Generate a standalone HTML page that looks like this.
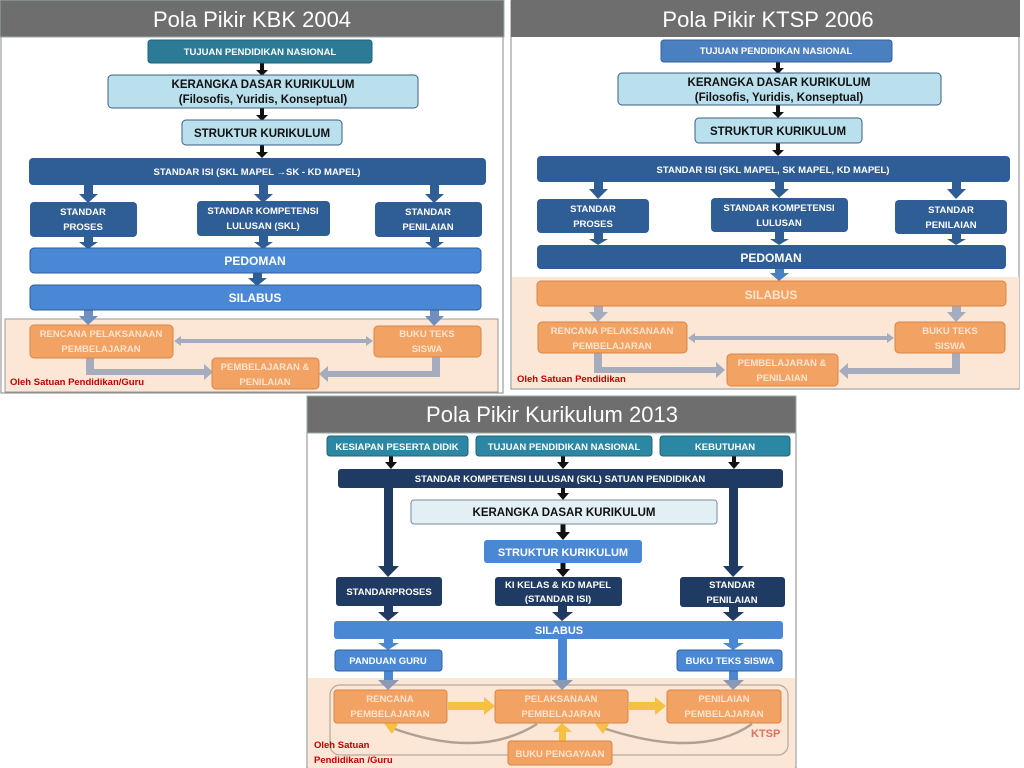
<!DOCTYPE html>
<html><head><meta charset="utf-8">
<style>
html,body{margin:0;padding:0;background:#fff;}
svg{display:block;}
text{font-family:"Liberation Sans",sans-serif;}
.b{font-weight:bold;font-size:9.5px;fill:#fff;text-anchor:middle;}
.bk{font-weight:bold;font-size:11.5px;fill:#111;text-anchor:middle;}
.o{font-weight:bold;font-size:9.5px;fill:#fde4cf;text-anchor:middle;}
.t{font-size:22px;fill:#fff;text-anchor:middle;}
.r{font-weight:bold;font-size:9.5px;fill:#c00000;}
</style></head>
<body>
<svg width="1024" height="768" viewBox="0 0 1024 768" xmlns="http://www.w3.org/2000/svg">
<!-- ===== PANEL 1 ===== -->
<rect x="1" y="1" width="502" height="392" fill="#fff" stroke="#888" stroke-width="1"/>
<rect x="0" y="0" width="504" height="37" fill="#6e6e6e" stroke="#9aa" stroke-width="1"/>
<text class="t" x="252" y="27">Pola Pikir KBK 2004</text>
<rect x="5" y="319" width="493" height="73" fill="#fce6d6" stroke="#999" stroke-width="1"/>

<g fill="#111" stroke="#111">
<line x1="262" y1="63" x2="262" y2="71" stroke-width="4"/><polygon points="256,70 268,70 262,76" stroke="none"/>
<line x1="262" y1="108" x2="262" y2="116" stroke-width="4"/><polygon points="256,115 268,115 262,121" stroke="none"/>
<line x1="262" y1="145" x2="262" y2="153" stroke-width="4"/><polygon points="256,152 268,152 262,158" stroke="none"/>
</g>
<g fill="#2f5d95">
<rect x="84" y="184" width="9" height="12"/><polygon points="79,194 98,194 88,203"/>
<rect x="259" y="184" width="9" height="12"/><polygon points="254,194 273,194 263,203"/>
<rect x="430" y="184" width="9" height="12"/><polygon points="425,194 444,194 434,203"/>
<rect x="84" y="236" width="9" height="8"/><polygon points="79,242 98,242 88,249"/>
<rect x="259" y="236" width="9" height="8"/><polygon points="254,242 273,242 263,249"/>
<rect x="430" y="236" width="9" height="8"/><polygon points="425,242 444,242 434,249"/>
<rect x="253" y="272" width="9" height="8"/><polygon points="248,278 267,278 257,286"/>
</g>
<g fill="#6f8fc0">
<rect x="84" y="309" width="9" height="9"/><polygon points="79,316 98,316 88,325"/>
<rect x="430" y="309" width="9" height="9"/><polygon points="425,316 444,316 434,326"/>
</g>
<g fill="#a4acbe">
<rect x="178" y="339" width="191" height="4"/><polygon points="174,341 181,336 181,346"/><polygon points="373,341 366,336 366,346"/>
<path d="M86,357 h8 v12 h110 v-5 l9,8 -9,8 v-5 h-118 z"/>
<path d="M432,357 h8 v20 h-112 v5 l-9,-8 9,-8 v5 h104 z"/>
</g>

<rect x="148" y="40" width="224" height="23" rx="3" fill="#2b7b96" stroke="#21607a"/>
<text class="b" x="260" y="55">TUJUAN PENDIDIKAN NASIONAL</text>
<rect x="108" y="75" width="310" height="33" rx="4" fill="#b9e0ec" stroke="#3d5f80"/>
<text class="bk" x="263" y="88">KERANGKA DASAR KURIKULUM</text>
<text class="bk" x="263" y="103">(Filosofis, Yuridis, Konseptual)</text>
<rect x="182" y="120" width="160" height="25" rx="4" fill="#b9e0ec" stroke="#3d5f80"/>
<text class="bk" x="262" y="137">STRUKTUR KURIKULUM</text>
<rect x="29" y="158" width="457" height="27" rx="4" fill="#2f5d95"/>
<text class="b" x="257" y="175">STANDAR ISI (SKL MAPEL →SK - KD MAPEL)</text>
<rect x="30" y="202" width="107" height="35" rx="4" fill="#2f5d95"/>
<text class="b" x="83" y="215">STANDAR</text><text class="b" x="83" y="230">PROSES</text>
<rect x="197" y="201" width="133" height="35" rx="4" fill="#2f5d95"/>
<text class="b" x="263" y="214">STANDAR KOMPETENSI</text><text class="b" x="263" y="229">LULUSAN (SKL)</text>
<rect x="375" y="202" width="107" height="35" rx="4" fill="#2f5d95"/>
<text class="b" x="428" y="215">STANDAR</text><text class="b" x="428" y="230">PENILAIAN</text>
<rect x="30" y="248" width="451" height="25" rx="4" fill="#4a88d6" stroke="#2f5d95"/>
<text class="b" style="font-size:12px" x="255" y="265">PEDOMAN</text>
<rect x="30" y="285" width="451" height="25" rx="4" fill="#4a88d6" stroke="#2f5d95"/>
<text class="b" style="font-size:12px" x="255" y="302">SILABUS</text>
<rect x="30" y="325" width="143" height="33" rx="4" fill="#f2a262" stroke="#d8864a"/>
<text class="o" x="101" y="337">RENCANA PELAKSANAAN</text><text class="o" x="101" y="352">PEMBELAJARAN</text>
<rect x="374" y="326" width="107" height="31" rx="4" fill="#f2a262" stroke="#d8864a"/>
<text class="o" x="427" y="337">BUKU TEKS</text><text class="o" x="427" y="352">SISWA</text>
<rect x="212" y="358" width="107" height="31" rx="4" fill="#f2a262" stroke="#d8864a"/>
<text class="o" x="265" y="370">PEMBELAJARAN &amp;</text><text class="o" x="265" y="385">PENILAIAN</text>
<text class="r" x="10" y="385">Oleh Satuan Pendidikan/Guru</text>

<!-- ===== PANEL 2 ===== -->
<rect x="511" y="1" width="508" height="388" fill="#fff" stroke="#888"/>
<rect x="511" y="0" width="509" height="37" fill="#6e6e6e"/>
<text class="t" x="768" y="27">Pola Pikir  KTSP 2006</text>
<rect x="512" y="277" width="507" height="111" fill="#fce6d6"/>

<g fill="#111" stroke="#111">
<line x1="778" y1="62" x2="778" y2="69" stroke-width="4"/><polygon points="772,68 784,68 778,74" stroke="none"/>
<line x1="778" y1="105" x2="778" y2="113" stroke-width="4"/><polygon points="772,112 784,112 778,118" stroke="none"/>
<line x1="778" y1="143" x2="778" y2="151" stroke-width="4"/><polygon points="772,150 784,150 778,156" stroke="none"/>
</g>
<g fill="#2f5d95">
<rect x="594" y="181" width="9" height="10"/><polygon points="589,189 608,189 598,199"/>
<rect x="775" y="181" width="9" height="10"/><polygon points="770,189 789,189 779,198"/>
<rect x="952" y="181" width="9" height="10"/><polygon points="947,189 966,189 956,199"/>
<rect x="594" y="232" width="9" height="8"/><polygon points="589,239 608,239 598,245"/>
<rect x="775" y="231" width="9" height="9"/><polygon points="770,239 789,239 779,245"/>
<rect x="952" y="233" width="9" height="8"/><polygon points="947,239 966,239 956,245"/>
</g>
<g fill="#4a7fc0"><rect x="775" y="268" width="9" height="6"/><polygon points="770,273 789,273 779,281"/></g>
<g fill="#a4acbe">
<rect x="594" y="305" width="9" height="9"/><polygon points="589,312 608,312 598,322"/>
<rect x="952" y="305" width="9" height="9"/><polygon points="947,312 966,312 956,322"/>
<rect x="692" y="336" width="198" height="4"/><polygon points="688,338 695,333 695,343"/><polygon points="894,338 887,333 887,343"/>
<path d="M594,353 h8 v14 h114 v-5 l9,8 -9,8 v-5 h-122 z"/>
<path d="M952,353 h8 v21 h-112 v5 l-9,-8 9,-8 v5 h104 z"/>
</g>

<rect x="661" y="40" width="231" height="22" rx="3" fill="#4a7fc0" stroke="#35609a"/>
<text class="b" x="776" y="54">TUJUAN PENDIDIKAN NASIONAL</text>
<rect x="618" y="73" width="323" height="32" rx="4" fill="#b9e0ec" stroke="#3d5f80"/>
<text class="bk" x="779" y="86">KERANGKA DASAR KURIKULUM</text>
<text class="bk" x="779" y="101">(Filosofis, Yuridis, Konseptual)</text>
<rect x="695" y="118" width="167" height="25" rx="4" fill="#b9e0ec" stroke="#3d5f80"/>
<text class="bk" x="778" y="135">STRUKTUR KURIKULUM</text>
<rect x="537" y="156" width="473" height="26" rx="4" fill="#2f5d95"/>
<text class="b" x="773" y="173">STANDAR ISI (SKL MAPEL, SK MAPEL, KD MAPEL)</text>
<rect x="537" y="199" width="112" height="34" rx="4" fill="#2f5d95"/>
<text class="b" x="593" y="212">STANDAR</text><text class="b" x="593" y="227">PROSES</text>
<rect x="711" y="198" width="137" height="34" rx="4" fill="#2f5d95"/>
<text class="b" x="779" y="211">STANDAR KOMPETENSI</text><text class="b" x="779" y="226">LULUSAN</text>
<rect x="895" y="200" width="112" height="34" rx="4" fill="#2f5d95"/>
<text class="b" x="951" y="213">STANDAR</text><text class="b" x="951" y="228">PENILAIAN</text>
<rect x="537" y="245" width="469" height="24" rx="4" fill="#2f5d95"/>
<text class="b" style="font-size:12px" x="771" y="262">PEDOMAN</text>
<rect x="537" y="281" width="469" height="25" rx="4" fill="#f2a262" stroke="#d8864a"/>
<text class="o" style="font-size:12px" x="771" y="299">SILABUS</text>
<rect x="538" y="322" width="149" height="31" rx="4" fill="#f2a262" stroke="#d8864a"/>
<text class="o" x="612" y="334">RENCANA PELAKSANAAN</text><text class="o" x="612" y="349">PEMBELAJARAN</text>
<rect x="895" y="322" width="110" height="31" rx="4" fill="#f2a262" stroke="#d8864a"/>
<text class="o" x="950" y="334">BUKU TEKS</text><text class="o" x="950" y="349">SISWA</text>
<rect x="727" y="354" width="111" height="32" rx="4" fill="#f2a262" stroke="#d8864a"/>
<text class="o" x="782" y="366">PEMBELAJARAN &amp;</text><text class="o" x="782" y="381">PENILAIAN</text>
<text class="r" x="517" y="382">Oleh Satuan Pendidikan</text>

<!-- ===== PANEL 3 ===== -->
<rect x="307" y="396" width="489" height="372" fill="#fff" stroke="#888"/>
<rect x="307" y="396" width="489" height="37" fill="#6e6e6e" stroke="#9aa"/>
<text class="t" x="552" y="422">Pola Pikir  Kurikulum 2013</text>
<rect x="308" y="678" width="487" height="90" fill="#fce6d6"/>
<rect x="330" y="685" width="458" height="70" rx="10" fill="none" stroke="#b8a898" stroke-width="1.2"/>

<g fill="#111" stroke="#111">
<line x1="391" y1="456" x2="391" y2="463" stroke-width="4"/><polygon points="385,462 397,462 391,469" stroke="none"/>
<line x1="563" y1="456" x2="563" y2="463" stroke-width="4"/><polygon points="557,462 569,462 563,469" stroke="none"/>
<line x1="734" y1="456" x2="734" y2="463" stroke-width="4"/><polygon points="728,462 740,462 734,469" stroke="none"/>
<line x1="563" y1="488" x2="563" y2="494" stroke-width="4"/><polygon points="557,493 569,493 563,500" stroke="none"/>
<line x1="563" y1="524" x2="563" y2="533" stroke-width="5"/><polygon points="556,532 570,532 563,540" stroke="none"/>
<line x1="563" y1="563" x2="563" y2="570" stroke-width="5"/><polygon points="556,569 570,569 563,577" stroke="none"/>
</g>
<g fill="#1f3b63">
<rect x="384" y="488" width="9" height="80"/><polygon points="378,566 399,566 388,577"/>
<rect x="729" y="488" width="9" height="80"/><polygon points="723,566 744,566 733,577"/>
<rect x="384" y="606" width="9" height="8"/><polygon points="378,612 399,612 388,621"/>
<rect x="558" y="606" width="9" height="8"/><polygon points="552,612 573,612 562,621"/>
<rect x="729" y="607" width="9" height="7"/><polygon points="723,612 744,612 733,621"/>
</g>
<g fill="#4a88d6">
<rect x="384" y="639" width="9" height="5"/><polygon points="378,643 399,643 388,650"/>
<rect x="729" y="639" width="9" height="5"/><polygon points="723,643 744,643 733,650"/>
<rect x="558" y="639" width="9" height="42"/>
<rect x="384" y="671" width="9" height="10"/>
<rect x="729" y="671" width="9" height="10"/>
</g>
<g fill="#8a9ab5">
<polygon points="378,680 399,680 388,690"/><polygon points="552,680 573,680 562,690"/><polygon points="723,680 744,680 733,690"/>
</g>
<g fill="#f6c043">
<rect x="448" y="702" width="38" height="8"/><polygon points="484,697 495,706 484,715"/>
<rect x="629" y="702" width="28" height="8"/><polygon points="655,697 666,706 655,715"/>
<rect x="559" y="731" width="7" height="10"/><polygon points="553,732 572,732 562,723"/>
</g>
<g fill="none" stroke="#b0a090" stroke-width="2.5">
<path d="M537,724 Q480,760 392,728"/><path d="M752,724 Q700,760 603,728"/>
</g>
<g fill="#f6c043"><polygon points="383,722 398,724 392,734"/><polygon points="594,722 609,724 603,734"/></g>

<rect x="327" y="436" width="141" height="20" rx="3" fill="#2b87a3" stroke="#21657a"/>
<text class="b" x="397" y="450">KESIAPAN PESERTA DIDIK</text>
<rect x="476" y="436" width="176" height="20" rx="3" fill="#2b87a3" stroke="#21657a"/>
<text class="b" x="564" y="450">TUJUAN PENDIDIKAN NASIONAL</text>
<rect x="660" y="436" width="130" height="20" rx="3" fill="#2b87a3" stroke="#21657a"/>
<text class="b" x="725" y="450">KEBUTUHAN</text>
<rect x="338" y="469" width="445" height="19" rx="3" fill="#1f3b63"/>
<text class="b" x="560" y="482">STANDAR KOMPETENSI LULUSAN (SKL) SATUAN PENDIDIKAN</text>
<rect x="411" y="500" width="306" height="24" rx="3" fill="#e2f0f5" stroke="#7a8a9a"/>
<text class="bk" x="564" y="516">KERANGKA DASAR KURIKULUM</text>
<rect x="484" y="540" width="158" height="23" rx="3" fill="#4a88d6"/>
<text class="b" style="font-size:11px" x="563" y="556">STRUKTUR KURIKULUM</text>
<rect x="336" y="577" width="106" height="29" rx="3" fill="#1f3b63"/>
<text class="b" x="389" y="595">STANDARPROSES</text>
<rect x="495" y="577" width="127" height="29" rx="3" fill="#1f3b63"/>
<text class="b" x="558" y="588">KI KELAS &amp; KD MAPEL</text><text class="b" x="558" y="602">(STANDAR ISI)</text>
<rect x="680" y="577" width="105" height="30" rx="3" fill="#1f3b63"/>
<text class="b" x="732" y="588">STANDAR</text><text class="b" x="732" y="603">PENILAIAN</text>
<rect x="334" y="621" width="449" height="18" rx="3" fill="#4a88d6"/>
<text class="b" style="font-size:11px" x="559" y="634">SILABUS</text>
<rect x="335" y="650" width="107" height="21" rx="3" fill="#4a88d6" stroke="#35609a"/>
<text class="b" x="388" y="664">PANDUAN GURU</text>
<rect x="677" y="650" width="105" height="21" rx="3" fill="#4a88d6" stroke="#35609a"/>
<text class="b" x="730" y="664">BUKU TEKS SISWA</text>
<rect x="334" y="690" width="113" height="33" rx="3" fill="#f2a262" stroke="#d8864a"/>
<text class="o" x="390" y="702">RENCANA</text><text class="o" x="390" y="717">PEMBELAJARAN</text>
<rect x="495" y="690" width="133" height="33" rx="3" fill="#f2a262" stroke="#d8864a"/>
<text class="o" x="561" y="702">PELAKSANAAN</text><text class="o" x="561" y="717">PEMBELAJARAN</text>
<rect x="667" y="690" width="114" height="33" rx="3" fill="#f2a262" stroke="#d8864a"/>
<text class="o" x="724" y="702">PENILAIAN</text><text class="o" x="724" y="717">PEMBELAJARAN</text>
<rect x="508" y="741" width="104" height="24" rx="3" fill="#f2a262" stroke="#d8864a"/>
<text class="o" x="560" y="757">BUKU PENGAYAAN</text>
<text x="751" y="737" style="font-weight:bold;font-size:11px;fill:#e07060;">KTSP</text>
<text class="r" x="314" y="748">Oleh Satuan</text>
<text class="r" x="314" y="763">Pendidikan /Guru</text>
</svg>
</body></html>
